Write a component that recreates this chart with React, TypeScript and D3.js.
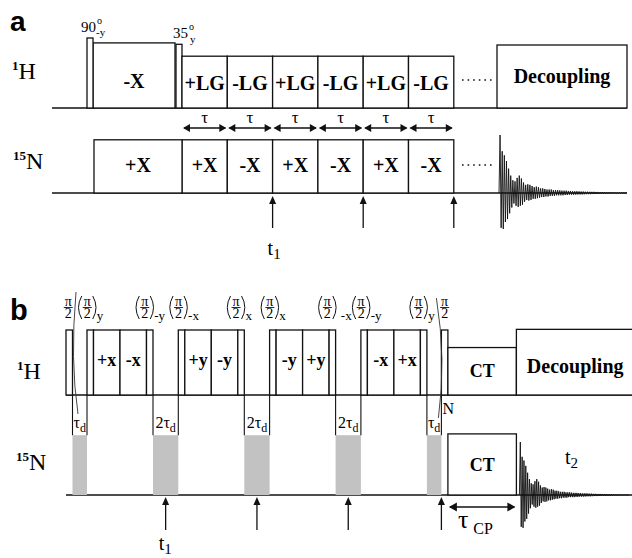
import React, { useEffect, useRef } from 'react';
import * as d3 from 'd3';

const W = 632;
const H = 558;
const SERIF = "'Liberation Serif', 'Times New Roman', serif";
const SANS = "'Liberation Sans', Arial, sans-serif";

// ---------- panel a (time units, amplitudes relative to the 90° pulse)
const aPulseNames = ['90', '35'];
const aPulseSubs = ['-y', 'y'];
const aPulseStart = [35, 124];
const aPulseAmp = [1.0, 0.91];
const aPulseDur = 6;

const aLockLabel = '-X';
const aLockSpan = [41, 123];
const aLockAmp = 0.93;

const aLGLabels = ['+LG', '-LG', '+LG', '-LG', '+LG', '-LG'];
const aNLabels = ['+X', '-X', '+X', '-X', '+X', '-X'];
const aCycleStart = 130;
const aCycleDur = 45.3;
const aLGAmp = 0.74;
const aNAmp = 0.76;
const aCPLabel = '+X';
const aCPStart = 42;
const aT1Marks = [2, 4, 6]; // block boundaries that carry a t1 arrow
const aDotsSpan = [410, 443];
const aDecSpan = [445, 575];
const aDecAmp = 0.9;
const aFidStart = 447;

// ---------- panel b
const bPulseDur = 6.5;
const bBlockDur = 26.5;
const bBlockLabels = [['+x', '-x'], ['+y', '-y'], ['-y', '+y'], ['-x', '+x']];
const bFlipSubs = [['y', '-y'], ['-x', 'x'], ['x', '-x'], ['-y', 'y']];
const bDelayLabels = ['τd', '2τd', '2τd', '2τd', 'τd'];
const bDelayDur = [14.5, 25.3, 25.3, 25.3, 14.5];
const bT1Delays = [1, 2, 3];
const bCTDur = 68.5;
const bCTAmpH = 0.73;
const bGrayAmp = 0.92;
const bCTAmpN = 0.94;
const bTotal = 566;

// FID peak amplitudes (alternating up / down)
const fidAmp = [
  0, 1.0, -0.6, 0.72, -0.62, 0.65, -0.5, 0.55, -0.45, 0.42, -0.35,
  0.3, -0.25, 0.22, -0.18, 0.2, -0.22, 0.26, -0.24, 0.3, -0.22, 0.25, -0.2, 0.18, -0.15, 0.14,
  -0.12, 0.15, -0.13, 0.14, -0.12, 0.12, -0.1, 0.1, -0.1, 0.11, -0.09, 0.1, -0.08, 0.08,
  -0.07, 0.08, -0.07, 0.07, -0.06, 0.06,
  -0.06, 0.06, -0.05, 0.06, -0.05, 0.05, -0.05, 0.05, -0.04, 0.05, -0.04, 0.045, -0.04,
  0.04, -0.04, 0.04, -0.035, 0.04, -0.035, 0.035,
  -0.03, 0.035, -0.03, 0.03, -0.03, 0.03, -0.028, 0.03, -0.025, 0.028, -0.025, 0.025,
  -0.025, 0.025, -0.022, 0.022, -0.02, 0.022, -0.02, 0.02, -0.02, 0.02, -0.018, 0.02,
  -0.018, 0.018, -0.016, 0.018, -0.016, 0.016,
  -0.015, 0.015, -0.014, 0.014, -0.013, 0.013, -0.012, 0.012, -0.011, 0.011, -0.01,
  0.01, -0.01, 0.009, -0.009, 0.008, -0.008, 0.007, -0.007, 0.006, -0.006, 0.005,
  -0.005, 0.004, 0,
];

type G = d3.Selection<SVGGElement, unknown, null, undefined>;

function box(g: G, x0: number, x1: number, yTop: number, yBase: number, label: string, size: number, dy = 0) {
  g.append('rect')
    .attr('x', x0).attr('y', yTop)
    .attr('width', x1 - x0).attr('height', yBase - yTop)
    .attr('fill', '#fff').attr('stroke', '#111').attr('stroke-width', 1.3);
  if (label) {
    g.append('text')
      .attr('x', (x0 + x1) / 2)
      .attr('y', (yTop + yBase) / 2 + size * 0.34 + dy)
      .attr('text-anchor', 'middle')
      .style('font-family', SERIF).style('font-weight', 'bold').style('font-size', `${size}px`)
      .text(label);
  }
}

function head(g: G, x: number, y: number, dir: 'l' | 'r' | 'u', len = 7, hw = 4) {
  let p = '';
  if (dir === 'r') p = `M${x},${y} L${x - len},${y - hw} L${x - len},${y + hw} Z`;
  if (dir === 'l') p = `M${x},${y} L${x + len},${y - hw} L${x + len},${y + hw} Z`;
  if (dir === 'u') p = `M${x},${y} L${x - hw},${y + len} L${x + hw},${y + len} Z`;
  g.append('path').attr('d', p).attr('fill', '#111');
}

function dblArrow(g: G, x0: number, x1: number, y: number, len = 7, hw = 4) {
  g.append('line').attr('x1', x0 + 2).attr('x2', x1 - 2).attr('y1', y).attr('y2', y)
    .attr('stroke', '#111').attr('stroke-width', 1.3);
  head(g, x0 + 1, y, 'l', len, hw);
  head(g, x1 - 1, y, 'r', len, hw);
}

function upArrow(g: G, x: number, yTip: number, yEnd: number) {
  g.append('line').attr('x1', x).attr('x2', x).attr('y1', yTip + 4).attr('y2', yEnd)
    .attr('stroke', '#111').attr('stroke-width', 1.3);
  head(g, x, yTip, 'u', 8, 3.5);
}

function sub(g: G, x: number, y: number, main: string, subs: string, size: number, subSize: number) {
  const t = g.append('text').attr('x', x).attr('y', y)
    .style('font-family', SERIF).style('font-size', `${size}px`);
  t.append('tspan').text(main);
  t.append('tspan').attr('dy', size * 0.18).style('font-size', `${subSize}px`).text(subs);
}

function nucleus(g: G, x: number, y: number, mass: string, sym: string) {
  const t = g.append('text').attr('x', x).attr('y', y).style('font-family', SERIF);
  t.append('tspan').attr('dy', -9).style('font-size', '13px').style('font-weight', 'bold').text(mass);
  t.append('tspan').attr('dy', 9).style('font-size', '24px').text(sym);
}

function piHalf(g: G, cx: number, yTop: number, paren: boolean, subTxt: string, subGap = 0) {
  const f = (s: string, y: number) => g.append('text').attr('x', cx).attr('y', y)
    .attr('text-anchor', 'middle').style('font-family', SERIF).style('font-size', '14px').text(s);
  f('π', yTop + 8.5);
  g.append('line').attr('x1', cx - 4.5).attr('x2', cx + 4.5).attr('y1', yTop + 10.5).attr('y2', yTop + 10.5)
    .attr('stroke', '#111').attr('stroke-width', 0.9);
  f('2', yTop + 21);
  if (paren) {
    g.append('path').attr('d', `M${cx - 5.5},${yTop - 1} Q${cx - 12},${yTop + 10.5} ${cx - 5.5},${yTop + 22}`)
      .attr('fill', 'none').attr('stroke', '#111').attr('stroke-width', 1);
    g.append('path').attr('d', `M${cx + 5.5},${yTop - 1} Q${cx + 12},${yTop + 10.5} ${cx + 5.5},${yTop + 22}`)
      .attr('fill', 'none').attr('stroke', '#111').attr('stroke-width', 1);
  }
  if (subTxt) {
    g.append('text').attr('x', cx + 9.5 + subGap).attr('y', yTop + 23)
      .style('font-family', SERIF).style('font-size', '13px').text(subTxt);
  }
}

function fid(g: G, x0: number, x1: number, base: number, amp: number) {
  const x = d3.scaleLinear().domain([0, fidAmp.length - 1]).range([x0, x1]);
  const y = d3.scaleLinear().domain([-1, 1]).range([base + amp, base - amp]);
  const line = d3.line<number>().x((_, i) => x(i)).y(d => y(d));
  g.append('path').attr('d', line(fidAmp) as string)
    .attr('fill', 'none').attr('stroke', '#111').attr('stroke-width', 0.9);
}

const App: React.FC = () => {
  const ref = useRef<SVGSVGElement>(null);

  useEffect(() => {
    if (!ref.current) return;
    const svg = d3.select(ref.current);
    svg.selectAll('*').remove();
    const g = svg.append('g') as G;

    // ================= panel a =================
    const xa = d3.scaleLinear().domain([0, 575]).range([52, 627]);
    const aHBase = 108;
    const aNBase = 193;
    const yaH = d3.scaleLinear().domain([0, 1]).range([aHBase, 38]);
    const yaN = d3.scaleLinear().domain([0, 1]).range([aNBase, 123]);

    g.append('text').attr('x', 10).attr('y', 31)
      .style('font-family', SANS).style('font-weight', 'bold').style('font-size', '28px').text('a');
    nucleus(g, 12, 79, '1', 'H');
    nucleus(g, 13, 169, '15', 'N');

    // baselines
    [aHBase, aNBase].forEach(b => g.append('line').attr('x1', xa(0)).attr('x2', xa(575))
      .attr('y1', b).attr('y2', b).attr('stroke', '#111').attr('stroke-width', 1.5));

    // spin lock + flip pulses
    box(g, xa(aLockSpan[0]), xa(aLockSpan[1]), yaH(aLockAmp), aHBase, aLockLabel, 20, 6);
    aPulseStart.forEach((s, i) => {
      const top = yaH(aPulseAmp[i]);
      box(g, xa(s), xa(s + aPulseDur), top, aHBase, '', 0);
      const tx = xa(s + aPulseDur) + 3 + (i === 1 ? 3 : 0);
      g.append('text').attr('x', tx).attr('y', top - 6).attr('text-anchor', 'end')
        .style('font-family', SERIF).style('font-size', '15px').text(aPulseNames[i]);
      g.append('text').attr('x', tx + 1).attr('y', top - 14)
        .style('font-family', SERIF).style('font-size', '10px').text('o');
      g.append('text').attr('x', tx + (i === 0 ? 0 : 2)).attr('y', top - 2 + (i === 0 ? 0 : 1))
        .style('font-family', SERIF).style('font-size', '11px').text(aPulseSubs[i]);
    });

    // LG cycles, 15N phase cycling and tau arrows
    aLGLabels.forEach((l, i) => {
      const s = aCycleStart + i * aCycleDur;
      box(g, xa(s), xa(s + aCycleDur), yaH(aLGAmp), aHBase, l, 20, 1);
      box(g, xa(s), xa(s + aCycleDur), yaN(aNAmp), aNBase, aNLabels[i], 20, -1);
      dblArrow(g, xa(s), xa(s + aCycleDur), 128);
      g.append('text').attr('x', xa(s + aCycleDur / 2)).attr('y', 123).attr('text-anchor', 'middle')
        .style('font-family', SERIF).style('font-size', '17px').text('τ');
    });
    box(g, xa(aCPStart), xa(aCycleStart), yaN(aNAmp), aNBase, aCPLabel, 20, -1);
    box(g, xa(aDecSpan[0]), xa(aDecSpan[1]), yaH(aDecAmp), aHBase, 'Decoupling', 20, 0);

    [80, 165].forEach(y => g.append('line').attr('x1', xa(aDotsSpan[0])).attr('x2', xa(aDotsSpan[1]))
      .attr('y1', y).attr('y2', y).attr('stroke', '#111').attr('stroke-width', 1.6)
      .attr('stroke-dasharray', '1.6,4'));

    aT1Marks.forEach(k => upArrow(g, xa(aCycleStart + k * aCycleDur), 196, 228));
    sub(g, xa(aCycleStart + 2 * aCycleDur) - 5, 255, 't', '1', 20, 15);

    fid(g, xa(aFidStart), 627, aNBase, 58);

    // ================= panel b =================
    const xb = d3.scaleLinear().domain([0, bTotal]).range([66, 632]);
    const bHBase = 395;
    const bNBase = 495;
    const ybH = d3.scaleLinear().domain([0, 1]).range([bHBase, 330]);
    const ybN = d3.scaleLinear().domain([0, 1]).range([bNBase, 430]);

    g.append('text').attr('x', 10).attr('y', 320)
      .style('font-family', SANS).style('font-weight', 'bold').style('font-size', '29px').text('b');
    nucleus(g, 17, 379, '1', 'H');
    nucleus(g, 16, 470, '15', 'N');

    [bHBase, bNBase].forEach(b => g.append('line').attr('x1', xb(0)).attr('x2', xb(bTotal))
      .attr('y1', b).attr('y2', b).attr('stroke', '#111').attr('stroke-width', 1.5));

    const pulseTop = ybH(1);
    const delayAt: number[] = [];
    let t = 0;
    // first pi/2
    box(g, xb(t), xb(t + bPulseDur), pulseTop, bHBase, '', 0);
    piHalf(g, xb(t + bPulseDur / 2) - 1, 297, false, '');
    t += bPulseDur;
    bDelayLabels.forEach((dl, i) => {
      delayAt.push(t);
      const d0 = xb(t);
      const d1 = xb(t + bDelayDur[i]);
      g.append('rect').attr('x', d0).attr('y', ybN(bGrayAmp)).attr('width', d1 - d0)
        .attr('height', bNBase - ybN(bGrayAmp)).attr('fill', '#c2c2c2');
      [d0, d1].forEach(x => g.append('line').attr('x1', x).attr('x2', x)
        .attr('y1', bHBase).attr('y2', ybN(bGrayAmp)).attr('stroke', '#111').attr('stroke-width', 1.1));
      const lab = g.append('text').attr('x', (d0 + d1) / 2).attr('y', 428).attr('text-anchor', 'middle')
        .style('font-family', SERIF).style('font-size', '16px');
      lab.append('tspan').text(dl.slice(0, -1));
      lab.append('tspan').attr('dy', 4).style('font-size', '12px').text('d');
      t += bDelayDur[i];
      if (i < bBlockLabels.length) {
        const gs = t;
        box(g, xb(t), xb(t + bPulseDur), pulseTop, bHBase, '', 0);
        t += bPulseDur;
        bBlockLabels[i].forEach(bl => {
          box(g, xb(t), xb(t + bBlockDur), pulseTop, bHBase, bl, 18, -3);
          t += bBlockDur;
        });
        box(g, xb(t), xb(t + bPulseDur), pulseTop, bHBase, '', 0);
        t += bPulseDur;
        piHalf(g, xb(gs + bPulseDur / 2) - 3, 297, true, bFlipSubs[i][0]);
        piHalf(g, xb(t - bPulseDur / 2) - 5, 297, true, bFlipSubs[i][1], i === 2 ? 4 : 0);
      }
    });
    // last pi/2, CT, decoupling
    const lastPulse = t;
    box(g, xb(t), xb(t + bPulseDur), pulseTop, bHBase, '', 0);
    piHalf(g, xb(t + bPulseDur / 2), 297, false, '');
    t += bPulseDur;
    box(g, xb(t), xb(t + bCTDur), ybH(bCTAmpH), bHBase, 'CT', 18, 0);
    box(g, xb(t), xb(t + bCTDur), ybN(bCTAmpN), bNBase, 'CT', 18, 0);
    dblArrow(g, xb(t), xb(t + bCTDur), 507, 8, 4.5);
    const tc = g.append('text').attr('x', xb(t) + 10).attr('y', 528)
      .style('font-family', SERIF).style('font-size', '26px');
    tc.append('tspan').text('τ');
    tc.append('tspan').attr('dx', 5).attr('dy', 6).style('font-size', '16px').text('CP');
    const ctEnd = t + bCTDur;
    box(g, xb(ctEnd), xb(bTotal) + 2, ybH(1.01), bHBase, 'Decoupling', 20, 4);

    // separators ( ... )N
    g.append('path').attr('d', `M${xb(0) + 10},292 Q${xb(0) + 4},360 ${xb(0) + 12},414`)
      .attr('fill', 'none').attr('stroke', '#333').attr('stroke-width', 0.9);
    const lp = xb(lastPulse);
    g.append('path').attr('d', `M${lp - 5},298 Q${lp + 5},360 ${lp - 3},418`)
      .attr('fill', 'none').attr('stroke', '#333').attr('stroke-width', 0.9);
    g.append('text').attr('x', lp + 1).attr('y', 414)
      .style('font-family', SERIF).style('font-size', '16px').text('N');

    // t1 arrows
    bT1Delays.forEach(k => upArrow(g, xb(delayAt[k] + bDelayDur[k] / 2), 497, 530));
    upArrow(g, xb(lastPulse), 497, 530);
    sub(g, xb(delayAt[1] + bDelayDur[1] / 2) - 7, 550, 't', '1', 20, 15);

    fid(g, xb(ctEnd) + 3, 629, bNBase, 53);
    sub(g, 565, 464, 't', '2', 20, 15);
  }, []);

  return (
    <svg ref={ref} width={W} height={H}
      style={{ position: 'absolute', left: 0, top: 0, background: '#fff' }} />
  );
};

export default App;
